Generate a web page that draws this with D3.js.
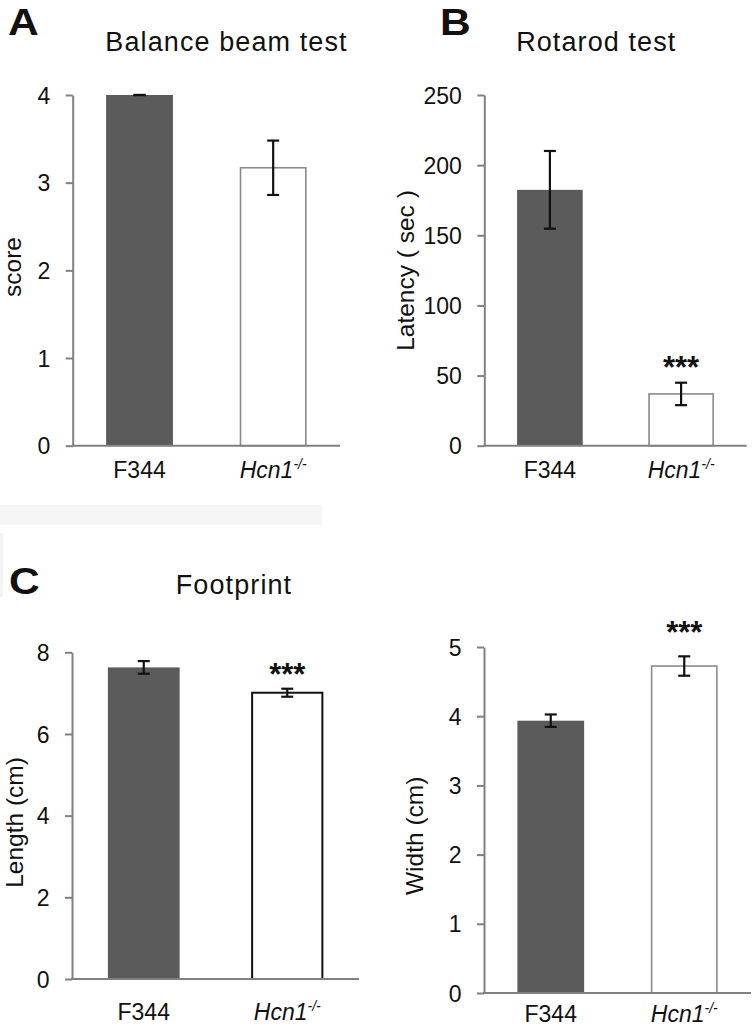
<!DOCTYPE html>
<html>
<head>
<meta charset="utf-8">
<script src="https://cdn.jsdelivr.net/npm/d3@7"></script>
<style>
  html, body { margin: 0; padding: 0; background: #fff; }
  svg { display: block; }
  text { font-family: "Liberation Sans", Arial, sans-serif; fill: #111; }
</style>
</head>
<body>
<svg id="chart" width="756" height="1028"></svg>
<script>
// ---------- data ----------
const categories = ["F344", "Hcn1"];

const balanceMeans = [4.0, 3.17];
const balanceErrors = [0.0, 0.31];
const balanceTicks = [0, 1, 2, 3, 4];
const balanceSig = ["", ""];

const rotarodMeans = [182.4, 36.9];
const rotarodErrors = [27.7, 8.0];
const rotarodTicks = [0, 50, 100, 150, 200, 250];
const rotarodSig = ["", "***"];

const lengthMeans = [7.63, 7.01];
const lengthErrors = [0.155, 0.098];
const lengthTicks = [0, 2, 4, 6, 8];
const lengthSig = ["", "***"];

const widthMeans = [3.935, 4.725];
const widthErrors = [0.09, 0.14];
const widthTicks = [0, 1, 2, 3, 4, 5];
const widthSig = ["", "***"];

// ---------- layout ----------
const svg = d3.select("#chart");

// faint scan artefacts in the reference
svg.append("rect").attr("x", 0).attr("y", 505).attr("width", 322).attr("height", 20).attr("fill", "#f6f6f6");
svg.append("rect").attr("x", 0).attr("y", 533).attr("width", 3).attr("height", 64).attr("fill", "#f3f3f3");

const panels = [
  { means: balanceMeans, errors: balanceErrors, ticks: balanceTicks, sig: balanceSig, max: 4,
    x0: 72.7, x1: 340, yTop: 95, yBot: 445.7, labelY: 478,
    title: "Balance beam test", titleX: 226.5, titleY: 50.7,
    letter: "A", letterX: 8, letterY: 35,
    ylabel: "score", ylabelX: 20.5, ylabelY: 267,
    whiteStroke: "#8a8a8a", starGap: 4 },
  { means: rotarodMeans, errors: rotarodErrors, ticks: rotarodTicks, sig: rotarodSig, max: 250,
    x0: 484.3, x1: 746.7, yTop: 95, yBot: 445.7, labelY: 478,
    title: "Rotarod test", titleX: 596.3, titleY: 50.7,
    letter: "B", letterX: 440, letterY: 35,
    ylabel: "Latency\u00a0(\u00a0sec\u00a0)", ylabelX: 414, ylabelY: 270.5,
    whiteStroke: "#8a8a8a", starGap: 4.5 },
  { means: lengthMeans, errors: lengthErrors, ticks: lengthTicks, sig: lengthSig, max: 8,
    x0: 72, x1: 359, yTop: 652.3, yBot: 979, labelY: 1020,
    title: "Footprint", titleX: 234, titleY: 594,
    letter: "C", letterX: 9, letterY: 594,
    ylabel: "Length (cm)", ylabelX: 23, ylabelY: 822.5,
    whiteStroke: "#111", starGap: 3.3 },
  { means: widthMeans, errors: widthErrors, ticks: widthTicks, sig: widthSig, max: 5,
    x0: 484, x1: 751, yTop: 647, yBot: 993, labelY: 1022,
    title: null,
    letter: null,
    ylabel: "Width (cm)", ylabelX: 423, ylabelY: 835.8,
    whiteStroke: "#8a8a8a", starGap: 13.7 }
];

const axisColor = "#808080";
const barDark = "#5b5b5b";

panels.forEach(p => {
  const g = svg.append("g");
  const x = d3.scaleBand().domain(categories).range([p.x0, p.x1])
    .paddingInner(0.5).paddingOuter(0.25);
  const y = d3.scaleLinear().domain([0, p.max]).range([p.yBot, p.yTop]);

  const data = categories.map((c, i) => ({ c, m: p.means[i], e: p.errors[i], s: p.sig[i], i }));

  // bars
  g.selectAll("rect.bar").data(data).join("rect")
    .attr("class", "bar")
    .attr("x", d => x(d.c) + (d.i === 1 ? 0.75 : 0))
    .attr("width", d => x.bandwidth() - (d.i === 1 ? 1.5 : 0))
    .attr("y", d => y(d.m))
    .attr("height", d => y(0) - y(d.m))
    .attr("fill", d => d.i === 0 ? barDark : "#fff")
    .attr("stroke", d => d.i === 0 ? "none" : p.whiteStroke)
    .attr("stroke-width", d => d.i === 0 ? 0 : (p.whiteStroke === "#111" ? 2 : 1.6));

  // y axis
  const yAxis = d3.axisLeft(y).tickValues(p.ticks).tickSize(7).tickSizeOuter(0).tickPadding(15.5)
    .tickFormat(d3.format("d"));
  const ya = g.append("g").attr("transform", `translate(${p.x0},0)`).call(yAxis);
  ya.select(".domain").attr("stroke", axisColor).attr("stroke-width", 2);
  ya.selectAll(".tick line").attr("stroke", axisColor).attr("stroke-width", 2);
  ya.selectAll(".tick text").attr("font-size", 23).attr("fill", "#111")
    .attr("font-family", "Liberation Sans, Arial, sans-serif").attr("dy", "0.35em");

  // x axis
  const xAxis = d3.axisBottom(x).tickSize(0).tickSizeOuter(0).tickFormat("");
  const xa = g.append("g").attr("transform", `translate(0,${p.yBot})`).call(xAxis);
  xa.select(".domain").attr("stroke", axisColor).attr("stroke-width", 2)
    .attr("d", `M${p.x0 - 1},0H${p.x1}`);

  // category labels
  g.selectAll("text.cat").data(data).join("text")
    .attr("class", "cat")
    .attr("x", d => x(d.c) + x.bandwidth() / 2)
    .attr("y", p.labelY)
    .attr("text-anchor", "middle")
    .attr("font-size", 23)
    .each(function(d) {
      const t = d3.select(this);
      if (d.i === 0) {
        t.text(d.c);
      } else {
        t.append("tspan").attr("font-style", "italic").text("Hcn1");
        t.append("tspan").attr("font-style", "italic").attr("font-size", 14)
          .attr("dy", -9).text("-/-");
      }
    });

  // error bars
  const cap = 6;
  const eb = g.selectAll("g.err").data(data).join("g").attr("class", "err");
  eb.append("line")
    .attr("x1", d => x(d.c) + x.bandwidth() / 2).attr("x2", d => x(d.c) + x.bandwidth() / 2)
    .attr("y1", d => y(d.m + d.e)).attr("y2", d => y(d.m - d.e))
    .attr("stroke", "#111").attr("stroke-width", 2.2);
  eb.append("line")
    .attr("x1", d => x(d.c) + x.bandwidth() / 2 - cap).attr("x2", d => x(d.c) + x.bandwidth() / 2 + cap)
    .attr("y1", d => y(d.m + d.e)).attr("y2", d => y(d.m + d.e))
    .attr("stroke", "#111").attr("stroke-width", 2.2);
  eb.append("line")
    .attr("x1", d => x(d.c) + x.bandwidth() / 2 - cap).attr("x2", d => x(d.c) + x.bandwidth() / 2 + cap)
    .attr("y1", d => y(d.m - d.e)).attr("y2", d => y(d.m - d.e))
    .attr("stroke", "#111").attr("stroke-width", 2.2);

  // significance
  g.selectAll("text.sig").data(data.filter(d => d.s)).join("text")
    .attr("class", "sig")
    .attr("x", d => x(d.c) + x.bandwidth() / 2)
    .attr("y", d => y(d.m + d.e) - p.starGap)
    .attr("text-anchor", "middle")
    .attr("font-size", 31)
    .attr("font-weight", "bold")
    .text(d => d.s);

  // y label
  g.append("text")
    .attr("transform", `translate(${p.ylabelX},${p.ylabelY}) rotate(-90)`)
    .attr("text-anchor", "middle")
    .attr("font-size", 24.5)
    .text(p.ylabel);

  // title
  if (p.title) {
    g.append("text")
      .attr("x", p.titleX).attr("y", p.titleY)
      .attr("text-anchor", "middle")
      .attr("font-size", 27)
      .attr("letter-spacing", 1.1)
      .text(p.title);
  }
  if (p.letter) {
    g.append("text")
      .attr("transform", `translate(${p.letterX},${p.letterY}) scale(1.15,1)`)
      .attr("font-size", 37)
      .attr("font-weight", "bold")
      .text(p.letter);
  }
});
</script>
</body>
</html>
